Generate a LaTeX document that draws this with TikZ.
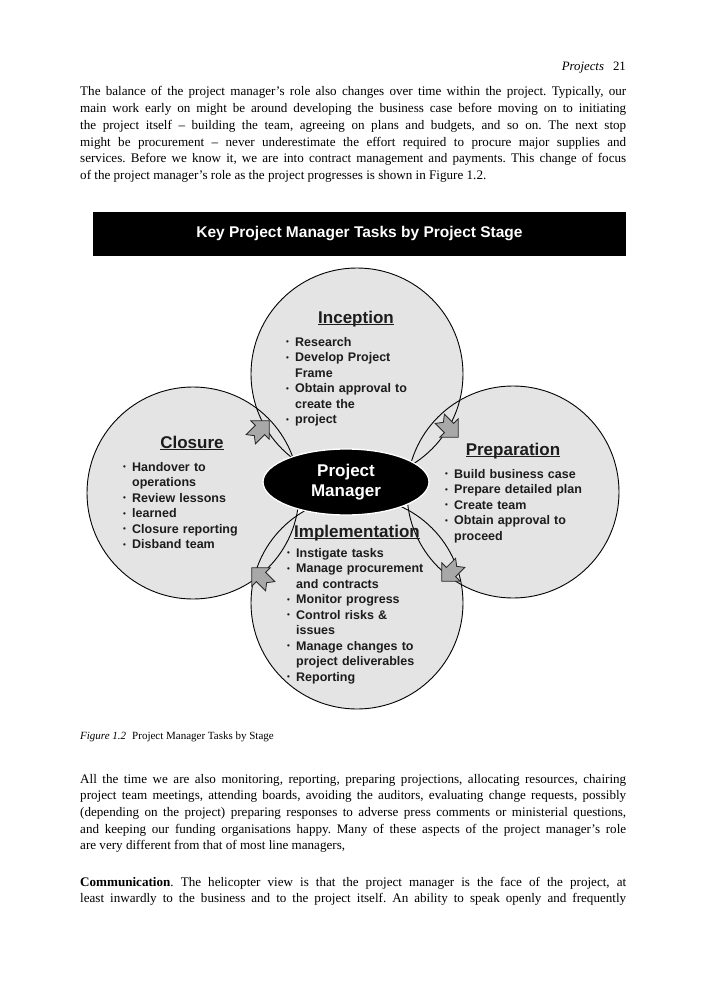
\documentclass[tikz,border=0pt]{standalone}
\usepackage{fontspec}
\setmainfont{Liberation Serif}
\newfontfamily\diafont{Liberation Sans}
\usepackage{tikz}
\usetikzlibrary{shapes.geometric}
\definecolor{stagegray}{HTML}{E4E4E4}
\definecolor{arrowgray}{HTML}{A8A8A8}
\definecolor{inkgray}{HTML}{1C1C1C}
\newcommand{\bul}{\makebox[9pt][l]{\fontsize{8}{8}\selectfont\raisebox{1.5pt}{•}}}
\newcommand{\cont}{\hspace*{9pt}}
\newcommand{\stagehead}[1]{\setbox0\hbox{#1}\rlap{\rule[-2.2pt]{\wd0}{1.2pt}}\box0}

\begin{document}
\hyphenpenalty=10000
\frenchspacing
\begin{tikzpicture}
[
x=1pt, y=-1pt,
body/.style={anchor=base west, inner sep=0pt, text width=546pt, align=justify, font=\fontsize{13.1}{16.7}\selectfont},
stage/.style={circle, fill=stagegray, minimum size=212pt, inner sep=0pt},
rim/.style={draw=black, line width=0.9pt},
head-a/.style={anchor=base, inner sep=0pt, text=inkgray, font=\diafont\bfseries\fontsize{17}{19}\selectfont},
list-a/.style={anchor=base west, inner sep=0pt, text width=175pt, align=left, text=inkgray, font=\diafont\bfseries\fontsize{12.5}{15.5}\selectfont},
stagearrow/.pic={\draw [fill=arrowgray, draw=black!85, line width=0.8pt, line join=miter]
  (-13,-6.5) -- (0,-6.5) -- (0,-13) -- (13,0) -- (0,13) -- (0,6.5) -- (-13,6.5) -- (-8,0) -- cycle;},
]
\useasboundingbox (0,0) rectangle (707,1000);

\node (runhead)  [anchor=base east, inner sep=0pt, font=\fontsize{12.8}{15}\selectfont] at (626,71) {\textit{Projects}\hspace{9pt}21};
\node (parone)   [body] at (80,96)
{The balance of the project manager’s role also changes over time within the project. Typically, our\linebreak
main work early on might be around developing the business case before moving on to initiating\linebreak
the project itself – building the team, agreeing on plans and budgets, and so on. The next stop\linebreak
might be procurement – never underestimate the effort required to procure major supplies and\linebreak
services. Before we know it, we are into contract management and payments. This change of focus\linebreak
of the project manager’s role as the project progresses is shown in Figure 1.2.};

\node (title)    [fill=black, minimum width=533pt, minimum height=44pt, inner sep=0pt, text=white,
                  font=\diafont\bfseries\fontsize{15.5}{18}\selectfont] at (359.5,234) {Key Project Manager Tasks by Project Stage};

% the four stages
\node (inc)      [stage] at (357,374) {};
\node (clo)      [stage] at (193,493) {};
\node (pre)      [stage] at (513,492) {};
\node (imp)      [stage] at (357,603) {};
\foreach \s in {inc,clo,pre,imp}
  \draw [rim] (\s.center) circle [radius=106pt];

\pic [rotate=45]   at (260,430) {stagearrow};
\pic [rotate=-45]  at (449,428) {stagearrow};
\pic [rotate=-135] at (451,572) {stagearrow};
\pic [rotate=135]  at (261,577) {stagearrow};

\node (pm)       [ellipse, fill=black, draw=white, line width=1.3pt, minimum width=166pt, minimum height=66pt, inner sep=0pt,
                  align=center, text=white, font=\diafont\bfseries\fontsize{17}{19.5}\selectfont] at (346,482) {Project\\Manager};

\node (inchead)  [head-a] at (356,323) {\stagehead{Inception}};
\node (inclist)  [list-a] at (286,346)
{\bul Research\\ \bul Develop Project\\ \cont Frame\\ \bul Obtain approval to\\ \cont create the\\ \bul project};
\node (clohead)  [head-a] at (192,448) {\stagehead{Closure}};
\node (clolist)  [list-a] at (123,471)
{\bul Handover to\\ \cont operations\\ \bul Review lessons\\ \bul learned\\ \bul Closure reporting\\ \bul Disband team};
\node (prehead)  [head-a] at (513,455) {\stagehead{Preparation}};
\node (prelist)  [list-a] at (445,478)
{\bul Build business case\\ \bul Prepare detailed plan\\ \bul Create team\\ \bul Obtain approval to\\ \cont proceed};
\node (imphead)  [head-a] at (357,537) {\stagehead{Implementation}};
\node (implist)  [list-a] at (287,557)
{\bul Instigate tasks\\ \bul Manage procurement\\ \cont and contracts\\ \bul Monitor progress\\ \bul Control risks \&\\ \cont issues\\ \bul Manage changes to\\ \cont project deliverables\\ \bul Reporting};

\node (caption)  [anchor=base west, inner sep=0pt, font=\fontsize{11}{13}\selectfont] at (80,739) {\textit{Figure 1.2}\hspace{6pt}Project Manager Tasks by Stage};
\node (partwo)   [body] at (80,783)
{All the time we are also monitoring, reporting, preparing projections, allocating resources, chairing\linebreak
project team meetings, attending boards, avoiding the auditors, evaluating change requests, possibly\linebreak
(depending on the project) preparing responses to adverse press comments or ministerial questions,\linebreak
and keeping our funding organisations happy. Many of these aspects of the project manager’s role\linebreak
are very different from that of most line managers,};
\node (parthree) [body] at (80,886)
{\parfillskip=0pt \textbf{Communication}. The helicopter view is that the project manager is the face of the project, at\linebreak
least inwardly to the business and to the project itself. An ability to speak openly and frequently\par};
\end{tikzpicture}
\end{document}
